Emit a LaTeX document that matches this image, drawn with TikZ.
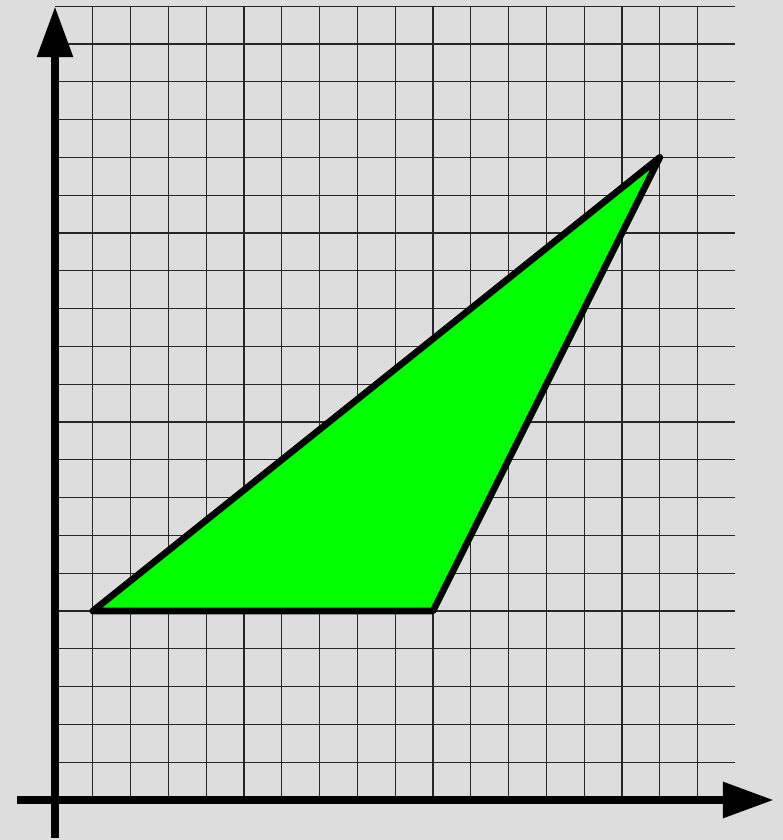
\documentclass[tikz,border=0pt]{standalone}
\usetikzlibrary{arrows.meta}
\definecolor{bg}{HTML}{DDDDDD}
\definecolor{tri}{HTML}{00FF00}
\begin{document}
\begin{tikzpicture}[x=0.378cm,y=0.378cm,
  gridline/.style={black!85,line width=0.3pt},
  axisline/.style={line width=2.5pt,-{Triangle[length=0.51cm,width=0.34cm]}},
  triface/.style={draw=black,fill=tri,line width=1.9pt,line join=round}]
\fill[bg] (-1.455,-1.058) rectangle (19.259,21.164);
\useasboundingbox (-1.455,-1.058) rectangle (19.259,21.164);
% grid
\foreach \y in {1,...,21} \draw[gridline] (0,\y) -- (18,\y);
\foreach \x in {1,...,17} \draw[gridline] (\x,0) -- (\x,21);
% triangle
\coordinate (A) at (1,5);
\coordinate (B) at (10,5);
\coordinate (C) at (16,17);
\draw[triface] (A) -- (B) -- (C) -- cycle;
% axes
\coordinate (xs) at (-1,0);
\coordinate (xe) at (19.02,0);
\coordinate (ys) at (0,-1.0);
\coordinate (ye) at (0,21.0);
\draw[axisline] (xs) -- (xe);
\draw[axisline] (ys) -- (ye);
\end{tikzpicture}
\end{document}
